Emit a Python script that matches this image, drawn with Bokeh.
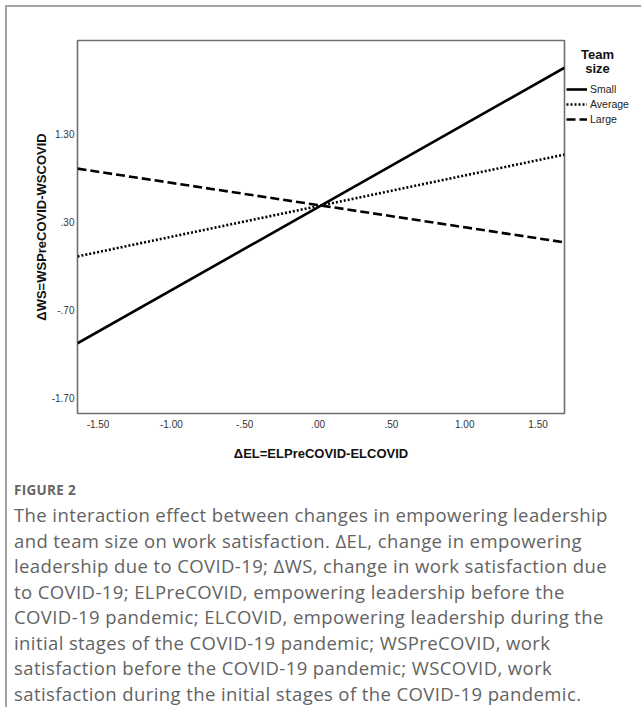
from bokeh.plotting import figure
from bokeh.models import FixedTicker, Legend, LegendItem, Range1d, Div, Label
from bokeh.layouts import column, row
from bokeh.embed import file_html
from bokeh.resources import INLINE

# ---------------- data ----------------
x_el = [-1.64, 1.68]                 # ΔEL at the two ends of the plotted range
small = [-1.08, 2.06]                # predicted ΔWS, small teams
average = [-0.09, 1.07]              # predicted ΔWS, average teams
large = [0.91, 0.07]                 # predicted ΔWS, large teams
series_names = ["Small", "Average", "Large"]

x_ticks = [-1.5, -1.0, -0.5, 0.0, 0.5, 1.0, 1.5]
x_tick_labels = ["-1.50", "-1.00", "-.50", ".00", ".50", "1.00", "1.50"]
y_ticks = [-1.7, -0.7, 0.3, 1.3]
y_tick_labels = ["-1.70", "-.70", ".30", "1.30"]
x_limits = (-1.64, 1.68)
y_limits = (-1.88, 2.37)

x_title = "ΔEL=ELPreCOVID-ELCOVID"
y_title = "ΔWS=WSPreCOVID-WSCOVID"
legend_title = ["Team", "size"]
caption_head = "FIGURE 2"
caption_lines = [
    "The interaction effect between changes in empowering leadership",
    "and team size on work satisfaction. \u0394EL, change in empowering",
    "leadership due to COVID-19; \u0394WS, change in work satisfaction due",
    "to COVID-19; ELPreCOVID, empowering leadership before the",
    "COVID-19 pandemic; ELCOVID, empowering leadership during the",
    "initial stages of the COVID-19 pandemic; WSPreCOVID, work",
    "satisfaction before the COVID-19 pandemic; WSCOVID, work",
    "satisfaction during the initial stages of the COVID-19 pandemic.",
]

# ---------------- chart ----------------
H = 460
P_W, LEG_W = 559, 75
B_TOP, B_BOTTOM = 33, 54
FRAME_H = H - B_TOP - B_BOTTOM
p = figure(width=P_W, height=H, x_range=Range1d(*x_limits), y_range=Range1d(*y_limits),
           output_backend="svg", toolbar_location=None,
           min_border_left=70, min_border_right=2, min_border_top=B_TOP, min_border_bottom=B_BOTTOM)
p.background_fill_color = "white"
p.border_fill_color = "white"
p.grid.visible = False
p.outline_line_color = "#6e6e6e"
p.outline_line_width = 1.6

AX_FONT = "Liberation Sans"
for ax in (p.xaxis[0], p.yaxis[0]):
    ax.axis_line_color = None
    ax.major_tick_line_color = None
    ax.minor_tick_line_color = None
    ax.major_tick_out = 0
    ax.major_tick_in = 0
    ax.major_label_text_font = AX_FONT
    ax.major_label_text_font_size = "10px"
    ax.major_label_text_color = "#333333"
    ax.axis_label_text_font = AX_FONT
    ax.axis_label_text_font_size = "13px"
    ax.axis_label_text_font_style = "bold"
    ax.axis_label_text_color = "#111111"

p.xaxis.ticker = FixedTicker(ticks=x_ticks, minor_ticks=[])
p.yaxis.ticker = FixedTicker(ticks=y_ticks, minor_ticks=[])
p.xaxis.major_label_overrides = dict(zip(x_ticks, x_tick_labels))
p.yaxis.major_label_overrides = dict(zip(y_ticks, y_tick_labels))
p.xaxis.major_label_standoff = 6
p.yaxis.major_label_standoff = 3
p.xaxis.axis_label = x_title
p.yaxis.axis_label = y_title
p.xaxis.axis_label_standoff = 15
p.yaxis.axis_label_standoff = 0

styles = [dict(line_dash="solid"), dict(line_dash="2 2"), dict(line_dash="9 4")]
for ys, st in zip([small, average, large], styles):
    p.line(x_el, ys, line_color="black", line_width=2.6, **st)

# ---------------- legend panel (to the right of the frame) ----------------
# its frame is aligned with the chart's frame by the row layout
leg = figure(width=LEG_W, height=H, x_range=Range1d(0, LEG_W), y_range=Range1d(FRAME_H, 0),
             x_axis_type=None, y_axis_type=None, output_backend="svg",
             toolbar_location=None, min_border=0)
leg.outline_line_color = None
leg.background_fill_color = "white"
leg.border_fill_color = "white"
nan = float("nan")
keys = [leg.line([nan, nan], [nan, nan], line_color="black", line_width=2.6, **st) for st in styles]
legend = Legend(
    items=[LegendItem(label=n, renderers=[r]) for n, r in zip(series_names, keys)],
    location=(0, FRAME_H - 86), orientation="vertical",
    glyph_width=21, glyph_height=14, label_height=14, label_standoff=3, spacing=1,
    padding=0, margin=0, border_line_color=None, background_fill_alpha=0,
    label_text_font=AX_FONT, label_text_font_size="10.5px", label_text_color="#222222",
)
leg.add_layout(legend)
for i, t in enumerate(legend_title):
    leg.add_layout(Label(x=31, y=14 + 14 * i, text=t, text_align="center", text_baseline="middle",
                         text_font=AX_FONT, text_font_size="13px", text_font_style="bold",
                         text_color="#111111"))

# ---------------- caption ----------------
cap_html = (
    "<div style=\"font-family:'Open Sans',sans-serif;color:#636363;padding-left:7px;white-space:nowrap;\">"
    "<div style=\"font-size:13.5px;font-weight:700;line-height:20px;margin-top:13px;color:#666666;letter-spacing:0.3px;\">"
    + caption_head + "</div>"
    "<div style=\"font-size:18.5px;line-height:25.5px;margin-top:2px;letter-spacing:0.4px;\">"
    + "<br>".join(caption_lines) + "</div></div>"
)
cap = Div(text=cap_html, width=P_W + LEG_W, height=240, margin=0)

layout = column(row(p, leg, spacing=0), cap, spacing=0, margin=(5, 0, 0, 5),
                styles={"border-left": "2px solid #a3a3a3", "border-top": "2px solid #a3a3a3"})

open("out.html", "w").write(file_html(layout, INLINE))
